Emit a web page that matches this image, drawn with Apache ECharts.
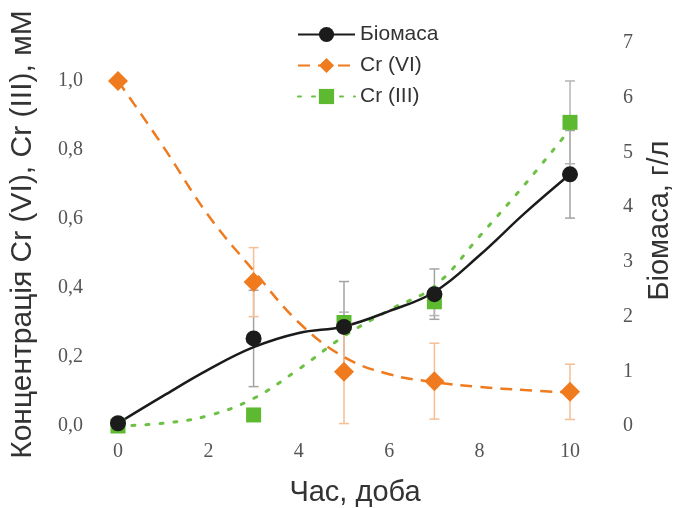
<!DOCTYPE html>
<html>
<head>
<meta charset="utf-8">
<script src="https://cdn.jsdelivr.net/npm/echarts@6/dist/echarts.min.js"></script>
<style>html,body{margin:0;padding:0;background:#fff}#c{width:674px;height:508px}</style>
</head>
<body>
<div id="c"></div>
<script>
// Measured points
var days = [0, 3, 5, 7, 10];
var biomass = [0.05, 1.6, 1.81, 2.41, 4.6];
var biomassErr = [0, 0.88, 0.83, 0.46, 0.8];
var crVI = [1.0, 0.417, 0.157, 0.13, 0.099];
var crVIErr = [0, 0.1, 0.15, 0.11, 0.08];
var crIII = [0, 0.032, 0.30, 0.36, 0.88];
var crIIIErr = [0, 0.01, 0.03, 0.04, 0.12];
// Trend curves
var trendDays = [0, 1, 2, 3, 4, 5, 6, 7, 8, 9, 10];
var biomassTrend = [0.05, 0.55, 1.03, 1.44, 1.7, 1.82, 2.1, 2.45, 3.12, 3.89, 4.6];
var crVITrend = [1.0, 0.81, 0.61, 0.45, 0.30, 0.20, 0.15, 0.127, 0.113, 0.104, 0.097];
var crIIITrend = [0, 0.008, 0.03, 0.08, 0.165, 0.26, 0.336, 0.405, 0.55, 0.70, 0.86];
// Axis ticks
var xTicks = [0, 2, 4, 6, 8, 10];
var leftTicks = [0, 0.2, 0.4, 0.6, 0.8, 1.0];
var rightTicks = [0, 1, 2, 3, 4, 5, 6, 7];
var names = ['Біомаса', 'Cr (VI)', 'Cr (III)'];

var cBlack = '#1b1b1b', cOrange = '#f07a1e', cGreen = '#5dba30';

function pairs(xs, ys) { return xs.map(function (x, i) { return [x, ys[i]]; }); }
function errs(xs, ys, es) { return xs.map(function (x, i) { return [x, ys[i] - es[i], ys[i] + es[i]]; }).filter(function (d, i) { return es[i] > 0; }); }

function errRender(color) {
  return function (params, api) {
    var x = api.value(0);
    var p1 = api.coord([x, api.value(1)]);
    var p2 = api.coord([x, api.value(2)]);
    var w = 5;
    var st = { stroke: color, lineWidth: 1.5 };
    return {
      type: 'group',
      children: [
        { type: 'line', shape: { x1: p1[0], y1: p1[1], x2: p2[0], y2: p2[1] }, style: st },
        { type: 'line', shape: { x1: p1[0] - w, y1: p1[1], x2: p1[0] + w, y2: p1[1] }, style: st },
        { type: 'line', shape: { x1: p2[0] - w, y1: p2[1], x2: p2[0] + w, y2: p2[1] }, style: st }
      ]
    };
  };
}

var labelFont = { fontFamily: 'Liberation Serif', fontSize: 20, color: '#555' };
function nameFont(size, pad) { return { fontFamily: 'Liberation Sans', fontSize: size, color: '#333', padding: pad }; }

var chart = echarts.init(document.getElementById('c'), null, { renderer: 'canvas' });
chart.setOption({
  backgroundColor: '#fff',
  animation: false,
  grid: { left: 118, right: 104, top: 43, bottom: 82, containLabel: false, outerBoundsMode: 'none' },
  legend: {
    data: names,
    orient: 'vertical',
    left: 292,
    top: 19,
    itemWidth: 57,
    itemHeight: 19,
    itemGap: 10,
    textStyle: { fontFamily: 'Liberation Sans', fontSize: 21, color: '#333' }
  },
  xAxis: {
    type: 'value', min: 0, max: 10, interval: 2,
    name: 'Час, доба', nameLocation: 'middle', nameGap: 52,
    nameTextStyle: nameFont(29, [0, 0, 0, 22]),
    axisLine: { show: false }, axisTick: { show: false }, splitLine: { show: false },
    axisLabel: Object.assign({ margin: 16, formatter: function (v) { return xTicks.indexOf(v) >= 0 ? String(v) : ''; } }, labelFont)
  },
  yAxis: [{
    type: 'value', min: 0, max: 1.11, interval: 0.2,
    name: 'Концентрація Cr (VI), Cr (III), мМ', nameLocation: 'middle', nameGap: 80, nameRotate: 90,
    nameTextStyle: nameFont(30, [0, 0, 0, 0]),
    axisLine: { show: false }, axisTick: { show: false }, splitLine: { show: false },
    axisLabel: Object.assign({ margin: 35, formatter: function (v) {
      for (var i = 0; i < leftTicks.length; i++) if (Math.abs(leftTicks[i] - v) < 1e-6) return leftTicks[i].toFixed(1).replace('.', ',');
      return '';
    } }, labelFont)
  }, {
    type: 'value', min: 0, max: 7, interval: 1, position: 'right',
    name: 'Біомаса, г/л', nameLocation: 'middle', nameGap: 75, nameRotate: 90,
    nameTextStyle: nameFont(29, [0, 0, 0, 28]),
    axisLine: { show: false }, axisTick: { show: false }, splitLine: { show: false },
    axisLabel: Object.assign({ margin: 53, align: 'left', formatter: function (v) { return rightTicks.indexOf(v) >= 0 ? String(v) : ''; } }, labelFont)
  }],
  series: [
    // error bars
    { type: 'custom', name: 'errBio', yAxisIndex: 1, renderItem: errRender('#a3a3a3'), data: errs(days, biomass, biomassErr), z: 1, silent: true },
    { type: 'custom', name: 'errVI', yAxisIndex: 0, renderItem: errRender('#f6be93'), data: errs(days, crVI, crVIErr), z: 1, silent: true },
    { type: 'custom', name: 'errIII', yAxisIndex: 0, renderItem: errRender('#b5b5b5'), data: errs(days, crIII, crIIIErr), z: 1, silent: true },
    // trend lines (carry the legend)
    { type: 'line', name: 'Біомаса', yAxisIndex: 1, data: pairs(trendDays, biomassTrend), smooth: 0.4,
      showSymbol: false, symbol: 'circle', symbolSize: 15,
      lineStyle: { color: cBlack, width: 2.5 }, itemStyle: { color: cBlack }, z: 3 },
    { type: 'line', name: 'Cr (VI)', yAxisIndex: 0, data: pairs(trendDays, crVITrend), smooth: 0.4,
      showSymbol: false, symbol: 'diamond', symbolSize: 19,
      lineStyle: { color: cOrange, width: 2.5, type: [12, 8] }, itemStyle: { color: cOrange }, z: 2 },
    { type: 'line', name: 'Cr (III)', yAxisIndex: 0, data: pairs(trendDays, crIIITrend), smooth: 0.4,
      showSymbol: false, symbol: 'rect', symbolSize: 15,
      lineStyle: { color: '#6cc044', width: 3, type: [3, 11], cap: 'round' }, itemStyle: { color: cGreen }, z: 2 },
    // markers
    { type: 'scatter', name: 'm3', yAxisIndex: 0, data: pairs(days, crIII), symbol: 'rect', symbolSize: 15,
      itemStyle: { color: cGreen, opacity: 1 }, z: 4 },
    { type: 'scatter', name: 'm2', yAxisIndex: 0, data: pairs(days, crVI), symbol: 'diamond', symbolSize: 20,
      itemStyle: { color: cOrange, opacity: 1 }, z: 4 },
    { type: 'scatter', name: 'm1', yAxisIndex: 1, data: pairs(days, biomass), symbol: 'circle', symbolSize: 16,
      itemStyle: { color: cBlack, opacity: 1 }, z: 5 }
  ]
});
</script>
</body>
</html>
